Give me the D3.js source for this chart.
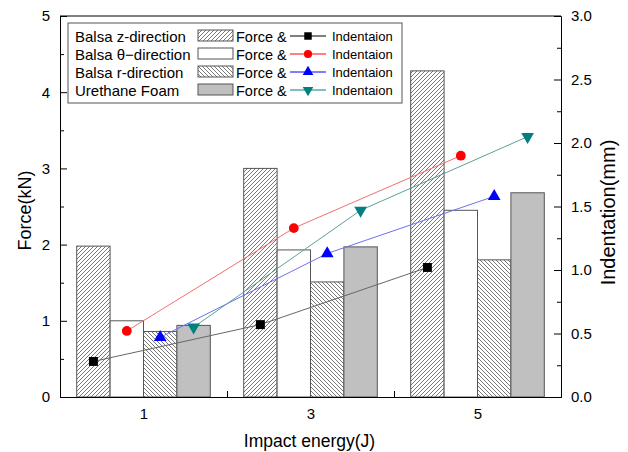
<!DOCTYPE html>
<html>
<head>
<meta charset="utf-8">
<script src="https://cdn.jsdelivr.net/npm/d3@7"></script>
<style>
  body { margin: 0; background: #fff; }
  svg { font-family: "Liberation Sans", Arial, sans-serif; }
</style>
</head>
<body>
<svg id="chart" width="628" height="452"></svg>
<script>
// impact energies (J)
var energies = [1, 3, 5];
var seriesNames = ["Balsa z-direction", "Balsa \u03b8\u2212direction", "Balsa r-direction", "Urethane Foam"];
// peak force (kN), one array per material
var forceZ = [1.98, 3.0, 4.28];
var forceT = [1.0, 1.93, 2.45];
var forceR = [0.86, 1.51, 1.80];
var forceU = [0.94, 1.97, 2.68];
// indentation (mm)
var indentZ = [0.28, 0.57, 1.02];
var indentT = [0.52, 1.33, 1.90];
var indentR = [0.47, 1.13, 1.58];
var indentU = [0.55, 1.47, 2.05];
var leftTicks = [0, 1, 2, 3, 4, 5];
var rightTicks = [0, 0.5, 1, 1.5, 2, 2.5, 3];
var xTicks = [1, 3, 5];

var svg = d3.select("#chart");
var margin = {top: 16, right: 67, bottom: 55, left: 60},
    width = 628 - margin.left - margin.right,
    height = 452 - margin.top - margin.bottom;

var defs = svg.append("defs");
var fwd = defs.append("pattern").attr("id", "hatchF")
    .attr("patternUnits", "userSpaceOnUse").attr("width", 4).attr("height", 4);
fwd.append("rect").attr("width", 4).attr("height", 4).attr("fill", "#fff");
fwd.append("path").attr("d", "M-1,1 l2,-2 M0,4 l4,-4 M3,5 l2,-2")
    .attr("stroke", "#555").attr("stroke-width", 0.8);
var back = defs.append("pattern").attr("id", "hatchB")
    .attr("patternUnits", "userSpaceOnUse").attr("width", 4).attr("height", 4);
back.append("rect").attr("width", 4).attr("height", 4).attr("fill", "#fff");
back.append("path").attr("d", "M-1,3 l2,2 M0,0 l4,4 M3,-1 l2,2")
    .attr("stroke", "#555").attr("stroke-width", 0.8);

var series = [
    {force: forceZ, indent: indentZ, fill: "url(#hatchF)", line: "#666", marker: "#000", shape: d3.symbolSquare, size: 80, off: -0.6},
    {force: forceT, indent: indentT, fill: "#fff", line: "#f07070", marker: "#ff0000", shape: d3.symbolCircle, size: 75, off: -0.2},
    {force: forceR, indent: indentR, fill: "url(#hatchB)", line: "#7070f0", marker: "#0000ff", shape: d3.symbolTriangle, size: 70, off: 0.2},
    {force: forceU, indent: indentU, fill: "#c0c0c0", line: "#5fa09a", marker: "#008080", shape: d3.symbolTriangle, size: 70, off: 0.6, flip: true}
];

var x = d3.scaleLinear().domain([0, 6]).range([0, width]);
var y = d3.scaleLinear().domain([0, 5]).range([height, 0]);
var y2 = d3.scaleLinear().domain([0, 3]).range([height, 0]);
var barW = x(0.4) - x(0);

var g = svg.append("g")
    .attr("transform", "translate(" + margin.left + "," + margin.top + ")");

// bars
series.forEach(function(s) {
    g.selectAll(null)
        .data(energies)
        .enter()
        .append("rect")
        .attr("x", function(d) { return x(d + s.off) - barW / 2; })
        .attr("y", function(d, i) { return y(s.force[i]); })
        .attr("width", barW)
        .attr("height", function(d, i) { return height - y(s.force[i]); })
        .attr("fill", s.fill)
        .attr("stroke", "#555")
        .attr("stroke-width", 1);
});

// indentation lines
series.forEach(function(s) {
    var line = d3.line()
        .x(function(d) { return x(d + s.off); })
        .y(function(d, i) { return y2(s.indent[i]); });
    g.append("path")
        .datum(energies)
        .attr("d", line)
        .attr("fill", "none")
        .attr("stroke", s.line)
        .attr("stroke-width", 1);
    g.selectAll(null)
        .data(energies)
        .enter()
        .append("path")
        .attr("d", d3.symbol().type(s.shape).size(s.size))
        .attr("transform", function(d, i) {
            return "translate(" + x(d + s.off) + "," + y2(s.indent[i]) + ")" + (s.flip ? " rotate(180)" : "");
        })
        .attr("fill", s.marker);
});

// axes
var tickStyle = function(sel) {
    sel.select(".domain").attr("stroke", "#000");
    sel.selectAll(".tick line").attr("stroke", "#000");
    sel.selectAll(".tick text").attr("font-size", 15).attr("fill", "#000")
        .attr("font-family", "Liberation Sans, Arial, sans-serif");
};

g.append("g")
    .attr("transform", "translate(0," + height + ")")
    .call(d3.axisBottom(x).tickValues(xTicks).tickFormat(d3.format("d")).tickSizeInner(0).tickSizeOuter(0).tickPadding(11))
    .call(tickStyle);
g.append("g")
    .attr("transform", "translate(0," + height + ")")
    .call(d3.axisBottom(x).tickValues([2, 4]).tickFormat("").tickSizeInner(-6).tickSizeOuter(0))
    .call(tickStyle);

g.append("g")
    .call(d3.axisLeft(y).tickValues(leftTicks).tickFormat(d3.format("d")).tickSizeInner(-7).tickSizeOuter(0).tickPadding(10))
    .call(tickStyle);
g.append("g")
    .call(d3.axisLeft(y).tickValues([0.5, 1.5, 2.5, 3.5, 4.5]).tickFormat("").tickSizeInner(-4).tickSizeOuter(0))
    .call(tickStyle);

g.append("g")
    .attr("transform", "translate(" + width + ",0)")
    .call(d3.axisRight(y2).tickValues(rightTicks).tickFormat(d3.format(".1f")).tickSizeInner(-7).tickSizeOuter(0).tickPadding(10))
    .call(tickStyle);
g.append("g")
    .attr("transform", "translate(" + width + ",0)")
    .call(d3.axisRight(y2).tickValues([0.25, 0.75, 1.25, 1.75, 2.25, 2.75]).tickFormat("").tickSizeInner(-4).tickSizeOuter(0))
    .call(tickStyle);

g.append("line")
    .attr("x1", 0).attr("x2", width).attr("y1", 0).attr("y2", 0)
    .attr("stroke", "#000");

// axis titles
svg.append("text")
    .attr("transform", "translate(31," + (margin.top + height / 2 + 4) + ") rotate(-90)")
    .attr("text-anchor", "middle")
    .attr("font-size", 18)
    .text("Force(kN)");
svg.append("text")
    .attr("transform", "translate(615," + (margin.top + height / 2 + 6) + ") rotate(-90)")
    .attr("text-anchor", "middle")
    .attr("font-size", 20)
    .text("Indentation(mm)");
svg.append("text")
    .attr("x", margin.left + x(3) - 1)
    .attr("y", 447)
    .attr("text-anchor", "middle")
    .attr("font-size", 17.5)
    .text("Impact energy(J)");

// legend
var lg = g.append("g").attr("transform", "translate(8,7)");
lg.append("rect")
    .attr("width", 334).attr("height", 80)
    .attr("fill", "#fff").attr("stroke", "#555");
series.forEach(function(s, i) {
    var row = lg.append("g").attr("transform", "translate(0," + (13 + i * 18) + ")");
    row.append("text").attr("x", 7).attr("y", 5.5)
        .attr("font-size", 15).text(seriesNames[i]);
    row.append("rect").attr("x", 130).attr("y", -6).attr("width", 35).attr("height", 11)
        .attr("fill", s.fill).attr("stroke", "#555");
    row.append("text").attr("x", 168).attr("y", 5.5)
        .attr("font-size", 14.5).text("Force &");
    row.append("line").attr("x1", 222).attr("x2", 258).attr("y1", 0).attr("y2", 0)
        .attr("stroke", s.marker);
    row.append("path")
        .attr("d", d3.symbol().type(s.shape).size(s.size * 0.7))
        .attr("transform", "translate(240,0)" + (s.flip ? " rotate(180)" : ""))
        .attr("fill", s.marker);
    row.append("text").attr("x", 264).attr("y", 4.5)
        .attr("font-size", 13).text("Indentaion");
});
</script>
</body>
</html>
